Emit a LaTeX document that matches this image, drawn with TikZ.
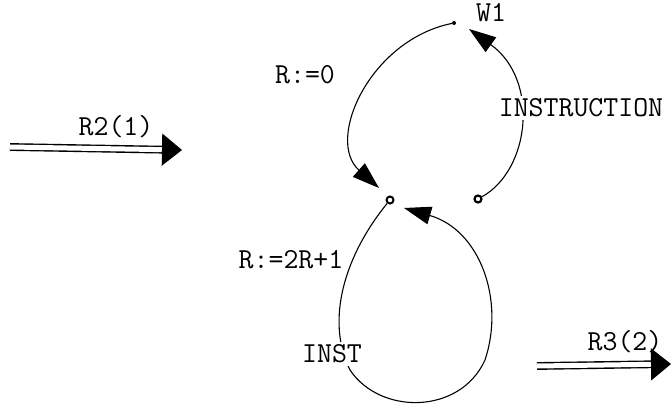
\documentclass[tikz,border=0pt]{standalone}
\usetikzlibrary{arrows.meta}
\begin{document}
\begin{tikzpicture}[x=1pt,y=-1pt,
  lbl/.style={font=\ttfamily\fontsize{29}{32}\selectfont, inner sep=1pt},
  lblw/.style={lbl, fill=white, inner sep=3pt},
  curve/.style={line width=1.1pt, -{Triangle[length=27pt 0 0, width=18pt 0 0]}},
  dbl/.style={double, double distance=5pt, line width=1.4pt, -{Triangle[length=20pt 0 0, width=32pt 0 0]}}]
\useasboundingbox (0,0) rectangle (671,411);
% state points
\node[circle, fill=black, inner sep=0pt, minimum size=4pt] (w1dot) at (454,23) {};
\node[circle, draw, line width=2pt, inner sep=0pt, minimum size=7pt] (cdot) at (390,200) {};
\node[circle, draw, line width=2.2pt, inner sep=0pt, minimum size=7pt] (rdot) at (478,199) {};
\coordinate (tipW) at (469,29);
\coordinate (tipC) at (379,188);
\coordinate (tipL) at (404,208);
% labels
\node[lbl] (W1) at (491,13) {W1};
\node[lbl] (r0) at (305,75) {R:=0};
\node[lbl] (r2) at (291,260) {R:=2R+1};
% curves
\draw[curve] (w1dot) .. controls (370,40) and (325,140) .. (tipC);
\draw[curve] (rdot) .. controls (530,170) and (540,80) .. (tipW);
\draw[curve] (cdot) .. controls (345,255) and (325,320) .. (350,370)
   .. controls (380,415) and (460,415) .. (485,360)
   .. controls (505,300) and (480,230) .. (tipL);
\node[lblw] (instr) at (581,108) {INSTRUCTION};
\node[lblw] (inst) at (332,354) {INST};
% input / output arrows
\coordinate (in0) at (10,147);
\coordinate (in1) at (182,150);
\coordinate (out0) at (537,366);
\coordinate (out1) at (671,364);
\draw[dbl] (in0) -- (in1);
\draw[dbl] (out0) -- (out1);
\node[lbl] (R2) at (116,127) {R2(1)};
\node[lbl] (R3) at (625,342) {R3(2)};
\end{tikzpicture}
\end{document}
